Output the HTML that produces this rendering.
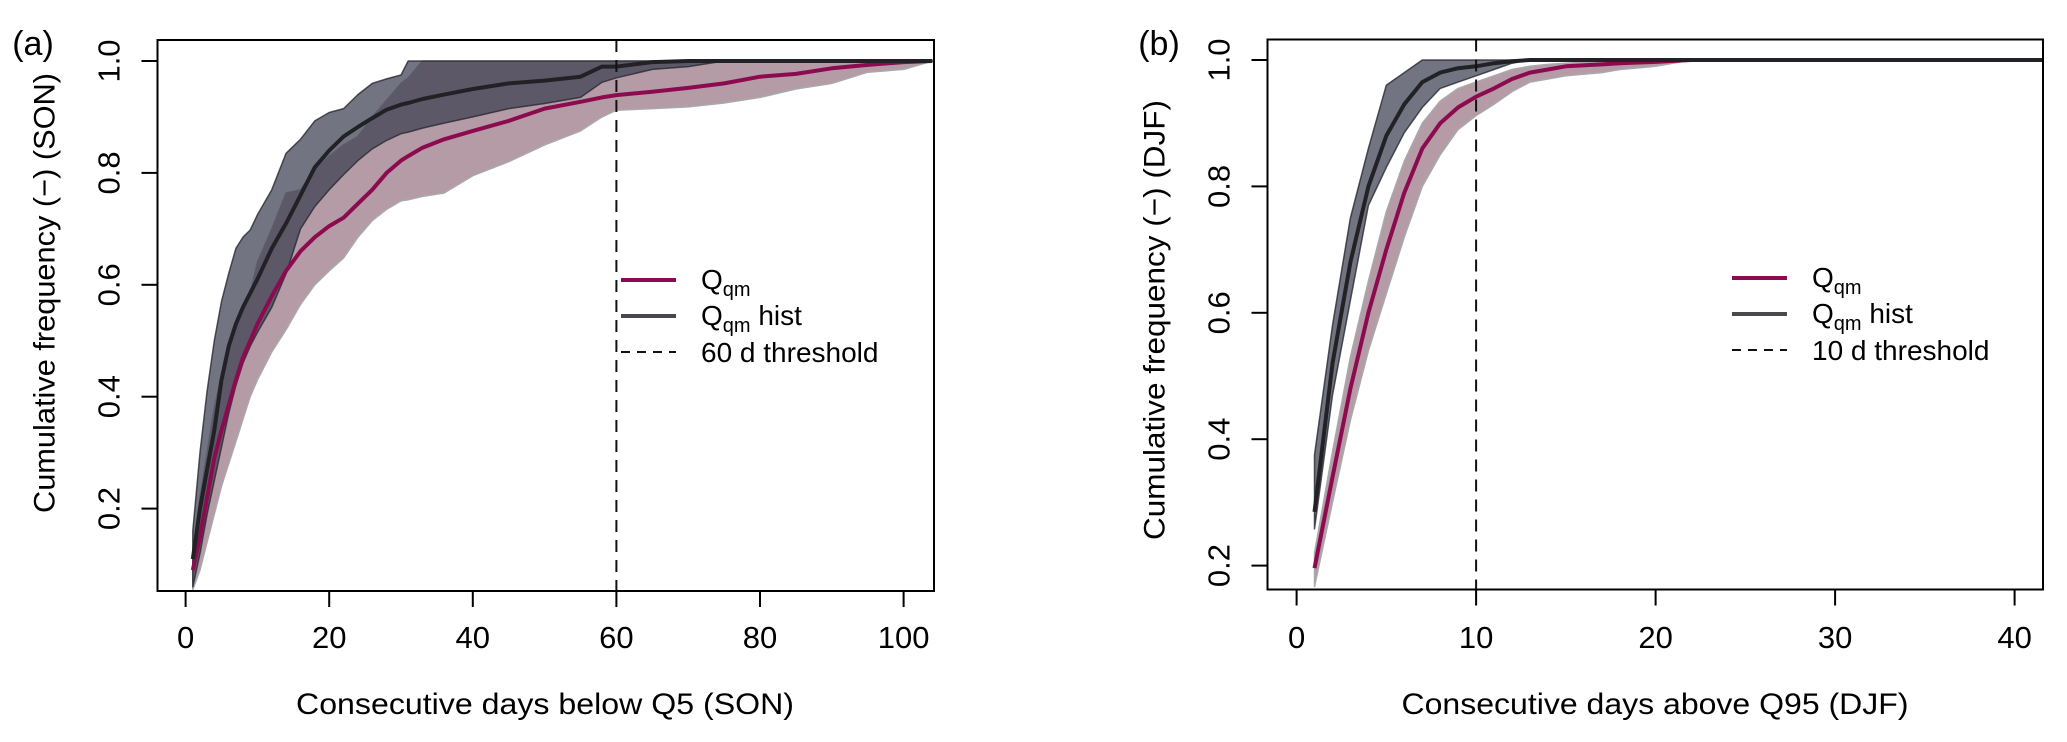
<!DOCTYPE html>
<html><head><meta charset="utf-8">
<style>
html,body{margin:0;padding:0;background:#fff;}
svg{display:block;font-family:"Liberation Sans",Arial,sans-serif;}
</style></head>
<body>
<svg id="chart" width="2067" height="742" viewBox="0 0 2067 742" xmlns="http://www.w3.org/2000/svg"></svg>
<script>
// ---------- Panel (a) data ----------
const daysA = [1,2,3,4,5,6,7,8,9,10,12,14,16,18,20,22,24,26,28,30,31,33,36,40,45,50,55,58,60,65,70,75,80,85,90,95,100,104];
const histMedA = [0.11,0.2,0.27,0.34,0.43,0.49,0.53,0.56,0.585,0.61,0.665,0.71,0.76,0.81,0.84,0.865,0.882,0.898,0.913,0.922,0.925,0.932,0.94,0.95,0.96,0.965,0.972,0.99,0.99,0.998,1,1,1,1,1,1,1,1];
const histUpA = [0.16,0.3,0.41,0.5,0.57,0.62,0.665,0.685,0.698,0.725,0.77,0.835,0.86,0.893,0.908,0.915,0.94,0.96,0.968,0.975,1,1,1,1,1,1,1,1,1,1,1,1,1,1,1,1,1,1];
const histLoA = [0.06,0.12,0.19,0.25,0.31,0.37,0.42,0.46,0.49,0.515,0.56,0.62,0.7,0.74,0.77,0.797,0.822,0.843,0.858,0.87,0.873,0.88,0.889,0.9,0.915,0.924,0.935,0.962,0.97,0.985,0.99,1,1,1,1,1,1,1];
const qmMedA = [0.09,0.15,0.22,0.29,0.34,0.385,0.43,0.47,0.5,0.53,0.58,0.625,0.66,0.685,0.705,0.72,0.745,0.77,0.8,0.822,0.83,0.845,0.86,0.875,0.893,0.915,0.927,0.935,0.939,0.945,0.952,0.96,0.972,0.977,0.987,0.993,0.998,1];
const qmUpA = [0.12,0.22,0.3,0.38,0.44,0.49,0.53,0.56,0.585,0.64,0.7,0.764,0.77,0.805,0.83,0.85,0.865,0.9,0.93,0.96,0.97,1,1,1,1,1,1,1,1,1,1,1,1,1,1,1,1,1];
const qmLoA = [0.055,0.09,0.14,0.19,0.24,0.28,0.32,0.36,0.4,0.43,0.48,0.52,0.565,0.6,0.625,0.648,0.685,0.715,0.735,0.75,0.752,0.758,0.764,0.795,0.82,0.85,0.875,0.9,0.912,0.915,0.918,0.925,0.935,0.95,0.96,0.98,0.985,1];
const xTicksA = [0,20,40,60,80,100];
const yTicksA = [0.2,0.4,0.6,0.8,1.0];
const thresholdA = 60;

// ---------- Panel (b) data ----------
const daysB = [1,2,3,4,5,6,7,8,9,10,11,12,13,14,15,17,18,20,22,30,41.6];
const histMedB = [0.285,0.52,0.68,0.8,0.88,0.93,0.965,0.98,0.987,0.99,0.995,0.998,1,1,1,1,1,1,1,1,1];
const histUpB = [0.375,0.58,0.75,0.86,0.96,0.98,1,1,1,1,1,1,1,1,1,1,1,1,1,1,1];
const histLoB = [0.258,0.47,0.62,0.77,0.83,0.885,0.925,0.955,0.965,0.975,0.985,0.995,1,1,1,1,1,1,1,1,1];
const qmMedB = [0.196,0.34,0.48,0.6,0.7,0.79,0.86,0.9,0.925,0.942,0.955,0.97,0.98,0.985,0.99,0.993,0.995,0.997,1,1,1];
const qmUpB = [0.22,0.38,0.53,0.65,0.76,0.84,0.9,0.935,0.955,0.965,0.975,0.985,0.99,0.993,0.995,0.998,1,1,1,1,1];
const qmLoB = [0.167,0.3,0.43,0.54,0.63,0.72,0.8,0.85,0.89,0.912,0.93,0.95,0.965,0.97,0.975,0.98,0.985,0.99,1,1,1];
const xTicksB = [0,10,20,30,40];
const yTicksB = [0.2,0.4,0.6,0.8,1.0];
const thresholdB = 10;

const NS = "http://www.w3.org/2000/svg";
const svg = document.getElementById('chart');
function mk(tag, attrs, parent){
  const e = document.createElementNS(NS, tag);
  for (const k in attrs) e.setAttribute(k, attrs[k]);
  (parent||svg).appendChild(e);
  return e;
}

function panel(cfg){
  const g = mk('g', {});
  
  
  const X = d => cfg.x0 + cfg.kx * d;
  const Y = v => cfg.y1 + (1 - v) * cfg.ky;
  const clip = 'clip-' + cfg.name;
  const cp = mk('clipPath', {id: clip}, g);
  mk('rect', {x: cfg.L, y: cfg.T, width: cfg.R - cfg.L, height: cfg.B - cfg.T}, cp);
  const plot = mk('g', {'clip-path': 'url(#' + clip + ')'}, g);

  function band(days, lo, up, fill, stroke, name){
    let pts = days.map((d,i)=>X(d).toFixed(1)+','+Y(up[i]).toFixed(1));
    for (let i = days.length-1; i >= 0; i--) pts.push(X(days[i]).toFixed(1)+','+Y(lo[i]).toFixed(1));
    const p = mk('polygon', {points: pts.join(' '), fill: fill, stroke: stroke, 'stroke-width': 1.5, 'stroke-linejoin':'round'}, plot);
    
    
  }
  function line(days, vals, color, name){
    const p = mk('polyline', {points: days.map((d,i)=>X(d).toFixed(1)+','+Y(vals[i]).toFixed(1)).join(' '), fill:'none', stroke: color, 'stroke-width': 4, 'stroke-linejoin':'round'}, plot);
    
    
  }
  band(cfg.days, cfg.qmLo, cfg.qmUp, 'rgba(105,55,75,0.5)', '#a9a9ad', 'qm-range-band');
  band(cfg.days, cfg.histLo, cfg.histUp, 'rgba(60,63,81,0.72)', 'rgba(40,40,50,0.8)', 'qm-hist-range-band');
  line(cfg.days, cfg.qmMed, '#8c0a4f', 'qm-median-line');
  line(cfg.days, cfg.histMed, '#222226', 'qm-hist-median-line');

  const th = mk('line', {x1: X(cfg.thr), x2: X(cfg.thr), y1: cfg.T, y2: cfg.B, stroke:'#111', 'stroke-width':2, 'stroke-dasharray':'12,8'}, g);
  
  

  const box = mk('rect', {x: cfg.L, y: cfg.T, width: cfg.R-cfg.L, height: cfg.B-cfg.T, fill:'none', stroke:'#000', 'stroke-width':2}, g);
  
  

  // x axis
  const xa = mk('g', {}, g);
  
  
  mk('line', {x1: X(cfg.xt[0]), x2: X(cfg.xt[cfg.xt.length-1]), y1: cfg.B, y2: cfg.B, stroke:'#000','stroke-width':2}, xa);
  cfg.xt.forEach(t=>{
    mk('line', {x1:X(t), x2:X(t), y1:cfg.B, y2:cfg.B+16, stroke:'#000','stroke-width':2}, xa);
    const tx = mk('text', {x:X(t), y:648, 'font-size':31, 'text-anchor':'middle', fill:'#000'}, xa);
    tx.textContent = t;
    
    
  });
  const xt = mk('text', {x: cfg.xtitleX, y: 714, 'font-size':30, 'text-anchor':'middle', textLength: cfg.xtitleW, lengthAdjust:'spacingAndGlyphs'}, g);
  xt.textContent = cfg.xtitle;
  
  

  // y axis
  const ya = mk('g', {}, g);
  
  
  mk('line', {x1: cfg.L, x2: cfg.L, y1: Y(cfg.yt[0]), y2: Y(cfg.yt[cfg.yt.length-1]), stroke:'#000','stroke-width':2}, ya);
  cfg.yt.forEach(t=>{
    mk('line', {x1:cfg.L-16, x2:cfg.L, y1:Y(t), y2:Y(t), stroke:'#000','stroke-width':2}, ya);
    const tx = mk('text', {x:0, y:0, 'font-size':31, 'text-anchor':'middle', fill:'#000', transform:'translate('+(cfg.L-38)+','+Y(t)+') rotate(-90)'}, ya);
    tx.textContent = t.toFixed(1);
    
    
  });
  const yt = mk('text', {x:0, y:0, 'font-size':30, 'text-anchor':'middle', textLength: 440, lengthAdjust:'spacingAndGlyphs', transform:'translate('+(cfg.L-103)+','+cfg.ytitleY+') rotate(-90)'}, g);
  yt.textContent = cfg.ytitle;
  
  

  const pl = mk('text', {x: cfg.labelX, y: 55, 'font-size':34, 'text-anchor':'middle'}, g);
  pl.textContent = cfg.label;
  
  

  // legend
  const lg = mk('g', {}, g);
  
  
  const lx1 = cfg.legX, lx2 = cfg.legX + 55, tx0 = cfg.legX + 80;
  const rows = [cfg.legY, cfg.legY + 36, cfg.legY + 72];
  mk('line', {x1:lx1,x2:lx2,y1:rows[0],y2:rows[0],stroke:'#8c0a4f','stroke-width':4}, lg);
  mk('line', {x1:lx1,x2:lx2,y1:rows[1],y2:rows[1],stroke:'#4a4a4e','stroke-width':4}, lg);
  mk('line', {x1:lx1,x2:lx2,y1:rows[2],y2:rows[2],stroke:'#111','stroke-width':2,'stroke-dasharray':'9,7'}, lg);
  const e1 = mk('text', {x:tx0, y:rows[0]+9, 'font-size':28}, lg);
  e1.innerHTML = 'Q<tspan font-size="20" dy="7">qm</tspan>';
  
  
  const e2 = mk('text', {x:tx0, y:rows[1]+9, 'font-size':28}, lg);
  e2.innerHTML = 'Q<tspan font-size="20" dy="7">qm</tspan><tspan dy="-7"> hist</tspan>';
  
  
  const e3 = mk('text', {x:tx0, y:rows[2]+10, 'font-size':28}, lg);
  e3.textContent = cfg.thrLabel;
  
  
}

panel({name:'panel-a', L:157.5, R:934, T:40, B:591, x0:185.6, kx:7.18, y1:61, ky:559.5,
  days:daysA, histMed:histMedA, histUp:histUpA, histLo:histLoA, qmMed:qmMedA, qmUp:qmUpA, qmLo:qmLoA,
  xt:xTicksA, yt:yTicksA, thr:thresholdA, xtitle:'Consecutive days below Q5 (SON)', xtitleX:545, xtitleW:498,
  ytitle:'Cumulative frequency (\u2212) (SON)', ytitleY:293, label:'(a)', labelX:33,
  legX:621, legY:280, thrLabel:'60 d threshold'});
panel({name:'panel-b', L:1267.5, R:2043, T:39.5, B:589.5, x0:1296.6, kx:17.95, y1:60, ky:632,
  days:daysB, histMed:histMedB, histUp:histUpB, histLo:histLoB, qmMed:qmMedB, qmUp:qmUpB, qmLo:qmLoB,
  xt:xTicksB, yt:yTicksB, thr:thresholdB, xtitle:'Consecutive days above Q95 (DJF)', xtitleX:1655, xtitleW:507,
  ytitle:'Cumulative frequency (\u2212) (DJF)', ytitleY:320, label:'(b)', labelX:1159,
  legX:1732, legY:278, thrLabel:'10 d threshold'});
</script>
</body></html>
